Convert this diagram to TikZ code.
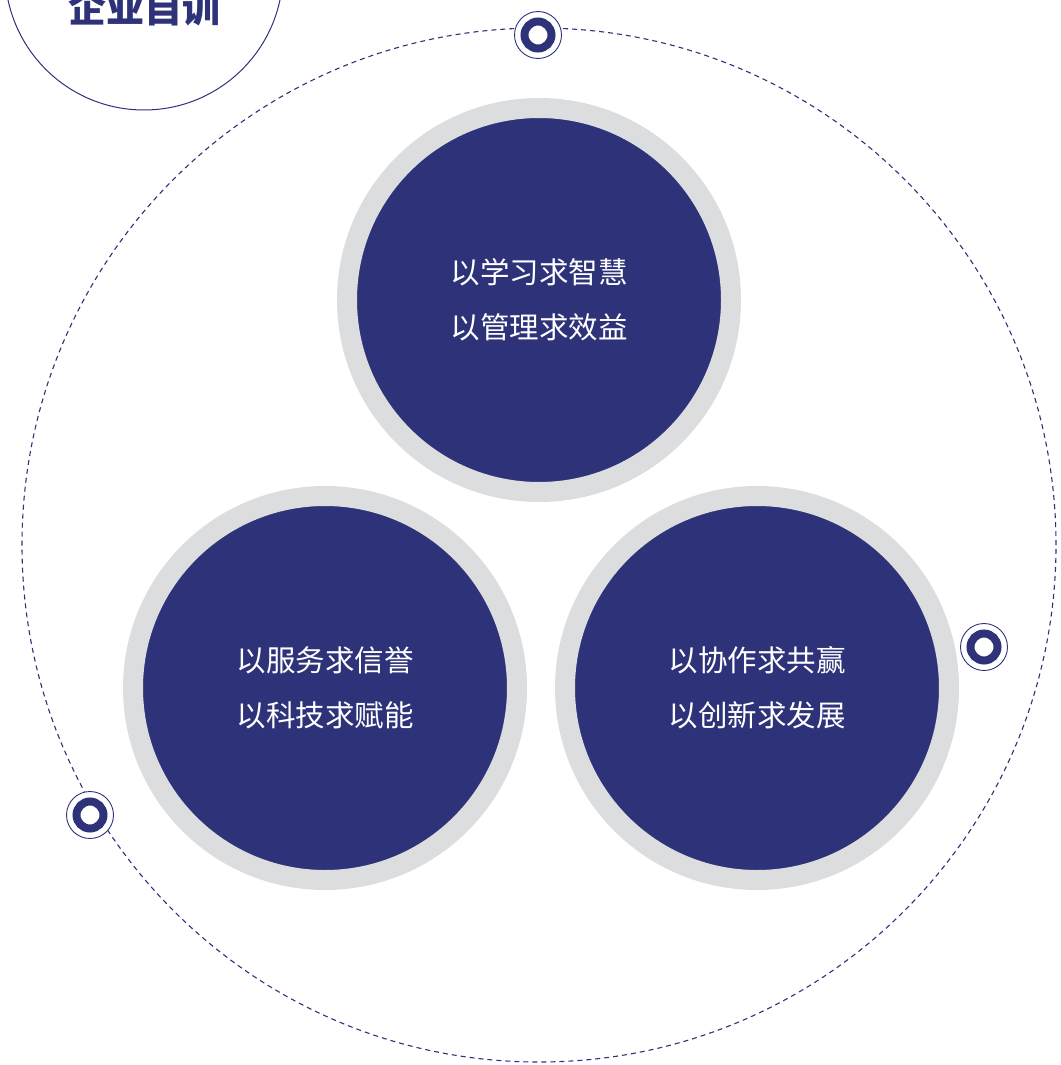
\documentclass[tikz,border=0pt]{standalone}
\usepackage{fontspec}
\newfontfamily\cjk{Noto Sans CJK SC}
\definecolor{navy}{HTML}{2E3379}
\definecolor{ringgray}{HTML}{DCDDDF}
\tikzset{
  ball/.style={circle,fill=navy,draw=ringgray,line width=20pt,minimum size=384pt,
    inner sep=0pt,text=white,align=center,font=\cjk\fontsize{29.5}{55}\selectfont},
  dot/.style={circle,draw=navy,line width=8pt,minimum size=27pt,inner sep=0pt,fill=white}
}
\begin{document}
\begin{tikzpicture}[x=1pt,y=-1pt]
\useasboundingbox (0,0) rectangle (1060,1065);
\clip (0,0) rectangle (1060,1065);
\fill[white] (0,0) rectangle (1060,1065);
% title
\draw[navy,line width=1pt] (144,-29) circle (139pt);
\node[text=navy,font=\cjk\bfseries\fontsize{38}{38}\selectfont] (title) at (144,8) {企业自训};
% dashed orbit
\draw[navy,line width=1.1pt,dash pattern=on 5pt off 4pt] (539,545) circle (517pt);
% three circles
\node[ball] (study) at (539,300) {以学习求智慧\\以管理求效益};
\node[ball] (serve) at (325,688) {以服务求信誉\\以科技求赋能};
\node[ball] (coop) at (757,688) {以协作求共赢\\以创新求发展};
% markers
\foreach \n/\p in {dtop/{(538,35)},dright/{(984,647)},dleft/{(90,815)}}{
  \fill[white] \p circle (24pt);
  \draw[navy,line width=0.9pt] \p circle (23.5pt);
  \node[dot] (\n) at \p {};
}
\end{tikzpicture}
\end{document}
